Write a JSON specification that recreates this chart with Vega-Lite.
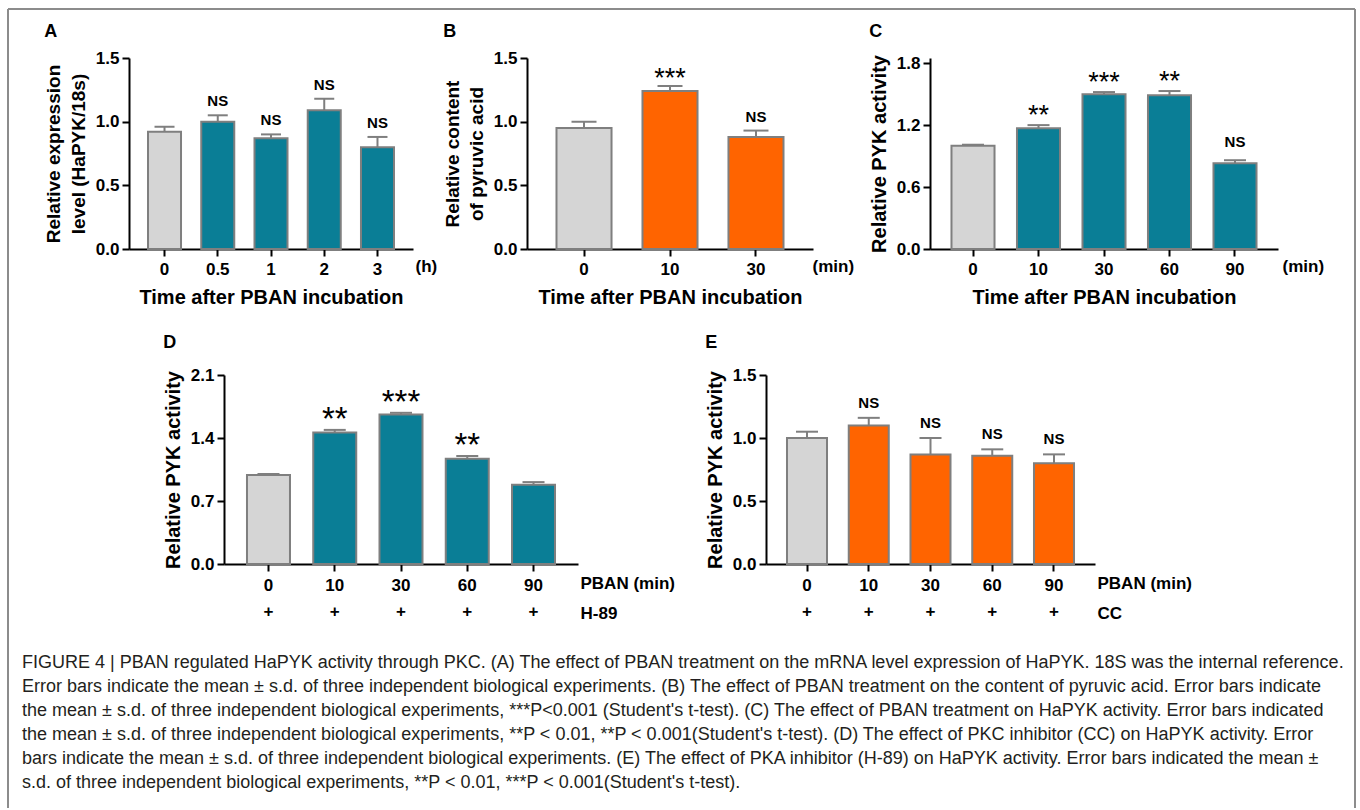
{
  "$schema": "https://vega.github.io/schema/vega-lite/v6.json",
  "padding": {"left": 7, "top": 8, "right": 0, "bottom": 0},
  "background": "white",
  "datasets": {
    "A": [
      {"t": "0", "v": 0.92, "e": 0.96, "sig": "", "g": "c"},
      {"t": "0.5", "v": 1.0, "e": 1.05, "sig": "NS", "g": "t"},
      {"t": "1", "v": 0.87, "e": 0.90, "sig": "NS", "g": "t"},
      {"t": "2", "v": 1.09, "e": 1.18, "sig": "NS", "g": "t"},
      {"t": "3", "v": 0.80, "e": 0.88, "sig": "NS", "g": "t"}
    ],
    "B": [
      {"t": "0", "v": 0.95, "e": 1.0, "sig": "", "g": "c"},
      {"t": "10", "v": 1.24, "e": 1.28, "sig": "***", "g": "t"},
      {"t": "30", "v": 0.88, "e": 0.93, "sig": "NS", "g": "t"}
    ],
    "C": [
      {"t": "0", "v": 1.0, "e": 1.01, "sig": "", "g": "c"},
      {"t": "10", "v": 1.17, "e": 1.20, "sig": "**", "g": "t"},
      {"t": "30", "v": 1.50, "e": 1.52, "sig": "***", "g": "t"},
      {"t": "60", "v": 1.49, "e": 1.53, "sig": "**", "g": "t"},
      {"t": "90", "v": 0.83, "e": 0.86, "sig": "NS", "g": "t"}
    ],
    "D": [
      {"t": "0", "v": 0.99, "e": 1.0, "sig": "", "g": "c"},
      {"t": "10", "v": 1.46, "e": 1.49, "sig": "**", "g": "t"},
      {"t": "30", "v": 1.66, "e": 1.68, "sig": "***", "g": "t"},
      {"t": "60", "v": 1.17, "e": 1.20, "sig": "**", "g": "t"},
      {"t": "90", "v": 0.88, "e": 0.91, "sig": "", "g": "t"}
    ],
    "E": [
      {"t": "0", "v": 1.0, "e": 1.05, "sig": "", "g": "c"},
      {"t": "10", "v": 1.10, "e": 1.16, "sig": "NS", "g": "t"},
      {"t": "30", "v": 0.87, "e": 1.0, "sig": "NS", "g": "t"},
      {"t": "60", "v": 0.86, "e": 0.91, "sig": "NS", "g": "t"},
      {"t": "90", "v": 0.80, "e": 0.87, "sig": "NS", "g": "t"}
    ],
    "caption": [
      {"line": 1, "text": "FIGURE 4 | PBAN regulated HaPYK activity through PKC. (A) The effect of PBAN treatment on the mRNA level expression of HaPYK. 18S was the internal reference."},
      {"line": 2, "text": "Error bars indicate the mean ± s.d. of three independent biological experiments. (B) The effect of PBAN treatment on the content of pyruvic acid. Error bars indicate"},
      {"line": 3, "text": "the mean ± s.d. of three independent biological experiments, ***P<0.001 (Student's t-test). (C) The effect of PBAN treatment on HaPYK activity. Error bars indicated"},
      {"line": 4, "text": "the mean ± s.d. of three independent biological experiments, **P < 0.01, **P < 0.001(Student's t-test). (D) The effect of PKC inhibitor (CC) on HaPYK activity. Error"},
      {"line": 5, "text": "bars indicate the mean ± s.d. of three independent biological experiments. (E) The effect of PKA inhibitor (H-89) on HaPYK activity. Error bars indicated the mean ±"},
      {"line": 6, "text": "s.d. of three independent biological experiments, **P < 0.01, ***P < 0.001(Student's t-test)."}
    ]
  },
  "config": {
    "view": {"stroke": null},
    "font": "Liberation Sans",
    "axis": {
      "grid": false,
      "domainColor": "#000",
      "domainWidth": 2,
      "tickColor": "#000",
      "tickWidth": 2,
      "tickSize": 7,
      "labelFont": "Liberation Sans",
      "labelFontSize": 17,
      "labelFontWeight": "bold",
      "labelColor": "#000",
      "labelPadding": 3,
      "titleFont": "Liberation Sans",
      "titleFontSize": 19,
      "titleFontWeight": "bold",
      "titleColor": "#000"
    },
    "title": {"anchor": "start", "frame": "bounds", "font": "Liberation Sans", "fontSize": 18, "fontWeight": "bold", "color": "#000", "baseline": "alphabetic"}
  },
  "bounds": "flush",
  "spacing": 317,
  "resolve": {"scale": {"fill": "independent"}},
  "vconcat": [
    {
      "bounds": "flush",
      "spacing": 0,
      "resolve": {"scale": {"fill": "independent"}},
      "hconcat": [
        {"width": 121, "height": 1, "data": {"values": []}, "mark": "point"},
        {
          "width": 284, "height": 191,
          "data": {"name": "A"},
          "title": {"text": "A", "offset": 8},
          "resolve": {"axis": {"x": "independent"}},
          "layer": [
            {
              "mark": {"type": "bar", "stroke": "#7f7f7f", "strokeWidth": 2},
              "encoding": {
                "x": {"field": "t", "type": "nominal", "sort": null, "scale": {"paddingInner": 0.38, "paddingOuter": 0.357}, "axis": {"title": "Time after PBAN incubation", "labelAngle": 0, "labelPadding": 5, "titlePadding": 10, "titleFontSize": 20}},
                "y": {"field": "v", "type": "quantitative", "scale": {"domain": [0, 1.5], "nice": false}, "axis": {"values": [0, 0.5, 1, 1.5], "format": ".1f", "title": ["Relative expression", "level (HaPYK/18s)"], "titlePadding": 7, "titleLineHeight": 25}},
                "fill": {"field": "g", "type": "nominal", "scale": {"domain": ["c", "t"], "range": ["#d5d5d5", "#0a7e96"]}, "legend": null}
              }
            },
            {
              "mark": {"type": "rule", "color": "#7f7f7f", "strokeWidth": 2},
              "encoding": {
                "x": {"field": "t", "type": "nominal", "sort": null, "axis": null},
                "y": {"field": "v", "type": "quantitative"},
                "y2": {"field": "e"}
              }
            },
            {
              "mark": {"type": "tick", "orient": "horizontal", "color": "#7f7f7f", "thickness": 2, "size": 20, "opacity": 1},
              "encoding": {
                "x": {"field": "t", "type": "nominal", "sort": null, "axis": null},
                "y": {"field": "e", "type": "quantitative"}
              }
            },
            {
              "transform": [{"filter": "datum.sig == 'NS'"}],
              "mark": {"type": "text", "fontSize": 15, "fontWeight": "bold", "baseline": "middle", "dy": -14, "color": "#000"},
              "encoding": {
                "x": {"field": "t", "type": "nominal", "sort": null, "axis": null},
                "y": {"field": "e", "type": "quantitative"},
                "text": {"field": "sig"}
              }
            },
            {
              "mark": {"type": "point", "opacity": 0},
              "encoding": {
                "x": {"field": "t", "type": "nominal", "sort": null, "axis": {"orient": "bottom", "domain": false, "ticks": false, "labels": false, "title": "(h)", "titleX": 286, "titleY": 9, "titleAlign": "left", "titleBaseline": "top", "titleFontSize": 17, "titleAngle": 0}},
                "y": {"field": "v", "type": "quantitative"}
              }
            }
          ]
        },
        {"width": 114, "height": 1, "data": {"values": []}, "mark": "point"},
        {
          "width": 286, "height": 191,
          "data": {"name": "B"},
          "title": {"text": "B", "offset": 8},
          "resolve": {"axis": {"x": "independent"}},
          "layer": [
            {
              "mark": {"type": "bar", "stroke": "#7f7f7f", "strokeWidth": 2},
              "encoding": {
                "x": {"field": "t", "type": "nominal", "sort": null, "scale": {"paddingInner": 0.36, "paddingOuter": 0.343}, "axis": {"title": "Time after PBAN incubation", "labelAngle": 0, "labelPadding": 5, "titlePadding": 10, "titleFontSize": 20}},
                "y": {"field": "v", "type": "quantitative", "scale": {"domain": [0, 1.5], "nice": false}, "axis": {"values": [0, 0.5, 1, 1.5], "format": ".1f", "title": ["Relative content", "of pyruvic acid"], "titlePadding": 7, "titleLineHeight": 24}},
                "fill": {"field": "g", "type": "nominal", "scale": {"domain": ["c", "t"], "range": ["#d5d5d5", "#ff6400"]}, "legend": null}
              }
            },
            {
              "mark": {"type": "rule", "color": "#7f7f7f", "strokeWidth": 2},
              "encoding": {
                "x": {"field": "t", "type": "nominal", "sort": null, "axis": null},
                "y": {"field": "v", "type": "quantitative"},
                "y2": {"field": "e"}
              }
            },
            {
              "mark": {"type": "tick", "orient": "horizontal", "color": "#7f7f7f", "thickness": 2, "size": 25, "opacity": 1},
              "encoding": {
                "x": {"field": "t", "type": "nominal", "sort": null, "axis": null},
                "y": {"field": "e", "type": "quantitative"}
              }
            },
            {
              "transform": [{"filter": "datum.sig == 'NS'"}],
              "mark": {"type": "text", "fontSize": 15, "fontWeight": "bold", "baseline": "middle", "dy": -14, "color": "#000"},
              "encoding": {
                "x": {"field": "t", "type": "nominal", "sort": null, "axis": null},
                "y": {"field": "e", "type": "quantitative"},
                "text": {"field": "sig"}
              }
            },
            {
              "transform": [{"filter": "datum.sig != 'NS' && datum.sig != ''"}],
              "mark": {"type": "text", "fontSize": 27, "baseline": "alphabetic", "dy": 1, "color": "#000"},
              "encoding": {
                "x": {"field": "t", "type": "nominal", "sort": null, "axis": null},
                "y": {"field": "e", "type": "quantitative"},
                "text": {"field": "sig"}
              }
            },
            {
              "mark": {"type": "point", "opacity": 0},
              "encoding": {
                "x": {"field": "t", "type": "nominal", "sort": null, "axis": {"orient": "bottom", "domain": false, "ticks": false, "labels": false, "title": "(min)", "titleX": 285, "titleY": 9, "titleAlign": "left", "titleBaseline": "top", "titleFontSize": 17, "titleAngle": 0}},
                "y": {"field": "v", "type": "quantitative"}
              }
            }
          ]
        },
        {"width": 117, "height": 1, "data": {"values": []}, "mark": "point"},
        {
          "width": 348, "height": 191,
          "data": {"name": "C"},
          "title": {"text": "C", "offset": 13},
          "resolve": {"axis": {"x": "independent"}},
          "layer": [
            {
              "mark": {"type": "bar", "stroke": "#7f7f7f", "strokeWidth": 2},
              "encoding": {
                "x": {"field": "t", "type": "nominal", "sort": null, "scale": {"paddingInner": 0.343, "paddingOuter": 0.328}, "axis": {"title": "Time after PBAN incubation", "labelAngle": 0, "labelPadding": 5, "titlePadding": 10, "titleFontSize": 20}},
                "y": {"field": "v", "type": "quantitative", "scale": {"domain": [0, 1.85], "nice": false}, "axis": {"values": [0, 0.6, 1.2, 1.8], "format": ".1f", "title": "Relative PYK activity", "titlePadding": 7, "titleFontSize": 20}},
                "fill": {"field": "g", "type": "nominal", "scale": {"domain": ["c", "t"], "range": ["#d5d5d5", "#0a7e96"]}, "legend": null}
              }
            },
            {
              "mark": {"type": "rule", "color": "#7f7f7f", "strokeWidth": 2},
              "encoding": {
                "x": {"field": "t", "type": "nominal", "sort": null, "axis": null},
                "y": {"field": "v", "type": "quantitative"},
                "y2": {"field": "e"}
              }
            },
            {
              "mark": {"type": "tick", "orient": "horizontal", "color": "#7f7f7f", "thickness": 2, "size": 22, "opacity": 1},
              "encoding": {
                "x": {"field": "t", "type": "nominal", "sort": null, "axis": null},
                "y": {"field": "e", "type": "quantitative"}
              }
            },
            {
              "transform": [{"filter": "datum.sig == 'NS'"}],
              "mark": {"type": "text", "fontSize": 15, "fontWeight": "bold", "baseline": "middle", "dy": -18, "color": "#000"},
              "encoding": {
                "x": {"field": "t", "type": "nominal", "sort": null, "axis": null},
                "y": {"field": "e", "type": "quantitative"},
                "text": {"field": "sig"}
              }
            },
            {
              "transform": [{"filter": "datum.sig != 'NS' && datum.sig != ''"}],
              "mark": {"type": "text", "fontSize": 27, "baseline": "alphabetic", "dy": -1, "color": "#000"},
              "encoding": {
                "x": {"field": "t", "type": "nominal", "sort": null, "axis": null},
                "y": {"field": "e", "type": "quantitative"},
                "text": {"field": "sig"}
              }
            },
            {
              "mark": {"type": "point", "opacity": 0},
              "encoding": {
                "x": {"field": "t", "type": "nominal", "sort": null, "axis": {"orient": "bottom", "domain": false, "ticks": false, "labels": false, "title": "(min)", "titleX": 352, "titleY": 9, "titleAlign": "left", "titleBaseline": "top", "titleFontSize": 17, "titleAngle": 0}},
                "y": {"field": "v", "type": "quantitative"}
              }
            }
          ]
        }
      ]
    },
    {
      "bounds": "flush",
      "spacing": 0,
      "resolve": {"scale": {"fill": "independent"}},
      "hconcat": [
        {"width": 216, "height": 1, "data": {"values": []}, "mark": "point"},
        {
          "width": 354, "height": 189,
          "data": {"name": "D"},
          "title": {"text": "D", "offset": 14},
          "resolve": {"axis": {"x": "independent"}},
          "layer": [
            {
              "mark": {"type": "bar", "stroke": "#7f7f7f", "strokeWidth": 2},
              "encoding": {
                "x": {"field": "t", "type": "nominal", "sort": null, "scale": {"paddingInner": 0.351, "paddingOuter": 0.347}, "axis": {"title": null, "labelAngle": 0, "labelPadding": 6, "labelExpr": "[datum.label, '+']", "labelLineHeight": 26}},
                "y": {"field": "v", "type": "quantitative", "scale": {"domain": [0, 2.1], "nice": false}, "axis": {"values": [0, 0.7, 1.4, 2.1], "format": ".1f", "title": "Relative PYK activity", "titlePadding": 7, "titleFontSize": 20}},
                "fill": {"field": "g", "type": "nominal", "scale": {"domain": ["c", "t"], "range": ["#d5d5d5", "#0a7e96"]}, "legend": null}
              }
            },
            {
              "mark": {"type": "rule", "color": "#7f7f7f", "strokeWidth": 2},
              "encoding": {
                "x": {"field": "t", "type": "nominal", "sort": null, "axis": null},
                "y": {"field": "v", "type": "quantitative"},
                "y2": {"field": "e"}
              }
            },
            {
              "mark": {"type": "tick", "orient": "horizontal", "color": "#7f7f7f", "thickness": 2, "size": 22, "opacity": 1},
              "encoding": {
                "x": {"field": "t", "type": "nominal", "sort": null, "axis": null},
                "y": {"field": "e", "type": "quantitative"}
              }
            },
            {
              "transform": [{"filter": "datum.sig != 'NS' && datum.sig != ''"}],
              "mark": {"type": "text", "fontSize": 33, "baseline": "alphabetic", "dy": 0, "color": "#000"},
              "encoding": {
                "x": {"field": "t", "type": "nominal", "sort": null, "axis": null},
                "y": {"field": "e", "type": "quantitative"},
                "text": {"field": "sig"}
              }
            },
            {
              "mark": {"type": "point", "opacity": 0},
              "encoding": {
                "x": {"field": "t", "type": "nominal", "sort": null, "axis": {"orient": "bottom", "domain": false, "ticks": false, "labels": false, "title": ["PBAN (min)", "H-89"], "titleX": 356, "titleY": 11, "titleAlign": "left", "titleBaseline": "top", "titleFontSize": 17, "titleLineHeight": 30, "titleAngle": 0}},
                "y": {"field": "v", "type": "quantitative"}
              }
            }
          ]
        },
        {"width": 188, "height": 1, "data": {"values": []}, "mark": "point"},
        {
          "width": 329, "height": 189,
          "data": {"name": "E"},
          "title": {"text": "E", "offset": 14},
          "resolve": {"axis": {"x": "independent"}},
          "layer": [
            {
              "mark": {"type": "bar", "stroke": "#7f7f7f", "strokeWidth": 2},
              "encoding": {
                "x": {"field": "t", "type": "nominal", "sort": null, "scale": {"paddingInner": 0.352, "paddingOuter": 0.34}, "axis": {"title": null, "labelAngle": 0, "labelPadding": 6, "labelExpr": "[datum.label, '+']", "labelLineHeight": 26}},
                "y": {"field": "v", "type": "quantitative", "scale": {"domain": [0, 1.5], "nice": false}, "axis": {"values": [0, 0.5, 1, 1.5], "format": ".1f", "title": "Relative PYK activity", "titlePadding": 7, "titleFontSize": 20}},
                "fill": {"field": "g", "type": "nominal", "scale": {"domain": ["c", "t"], "range": ["#d5d5d5", "#ff6400"]}, "legend": null}
              }
            },
            {
              "mark": {"type": "rule", "color": "#7f7f7f", "strokeWidth": 2},
              "encoding": {
                "x": {"field": "t", "type": "nominal", "sort": null, "axis": null},
                "y": {"field": "v", "type": "quantitative"},
                "y2": {"field": "e"}
              }
            },
            {
              "mark": {"type": "tick", "orient": "horizontal", "color": "#7f7f7f", "thickness": 2, "size": 22, "opacity": 1},
              "encoding": {
                "x": {"field": "t", "type": "nominal", "sort": null, "axis": null},
                "y": {"field": "e", "type": "quantitative"}
              }
            },
            {
              "transform": [{"filter": "datum.sig == 'NS'"}],
              "mark": {"type": "text", "fontSize": 15, "fontWeight": "bold", "baseline": "middle", "dy": -15, "color": "#000"},
              "encoding": {
                "x": {"field": "t", "type": "nominal", "sort": null, "axis": null},
                "y": {"field": "e", "type": "quantitative"},
                "text": {"field": "sig"}
              }
            },
            {
              "mark": {"type": "point", "opacity": 0},
              "encoding": {
                "x": {"field": "t", "type": "nominal", "sort": null, "axis": {"orient": "bottom", "domain": false, "ticks": false, "labels": false, "title": ["PBAN (min)", "CC"], "titleX": 331, "titleY": 11, "titleAlign": "left", "titleBaseline": "top", "titleFontSize": 17, "titleLineHeight": 30, "titleAngle": 0}},
                "y": {"field": "v", "type": "quantitative"}
              }
            }
          ]
        }
      ]
    },
    {
      "width": 1347,
      "height": 116,
      "layer": [
        {
          "data": {"name": "caption"},
          "mark": {"type": "text", "align": "left", "baseline": "middle", "dx": 14, "font": "Liberation Sans", "fontSize": 18, "color": "#231f20"},
          "encoding": {
            "x": {"datum": 0, "type": "quantitative", "scale": {"domain": [0, 1], "nice": false, "zero": false}, "axis": null},
            "y": {"field": "line", "type": "quantitative", "scale": {"domain": [2.2083, 7.0417], "reverse": true, "nice": false, "zero": false}, "axis": null},
            "text": {"field": "text"}
          }
        },
        {
          "data": {"values": [{}]},
          "mark": {"type": "rule", "color": "#8c8c8c", "strokeWidth": 2},
          "encoding": {
            "x": {"datum": 0, "type": "quantitative"},
            "y": {"datum": -26.25, "type": "quantitative"},
            "y2": {"datum": 7.0417}
          }
        },
        {
          "data": {"values": [{}]},
          "mark": {"type": "rule", "color": "#8c8c8c", "strokeWidth": 2},
          "encoding": {
            "x": {"datum": 1, "type": "quantitative"},
            "y": {"datum": -26.25, "type": "quantitative"},
            "y2": {"datum": 7.0417}
          }
        },
        {
          "data": {"values": [{}]},
          "mark": {"type": "rule", "color": "#8c8c8c", "strokeWidth": 2},
          "encoding": {
            "x": {"datum": 0, "type": "quantitative"},
            "x2": {"datum": 1},
            "y": {"datum": -26.25, "type": "quantitative"}
          }
        }
      ]
    }
  ]
}
